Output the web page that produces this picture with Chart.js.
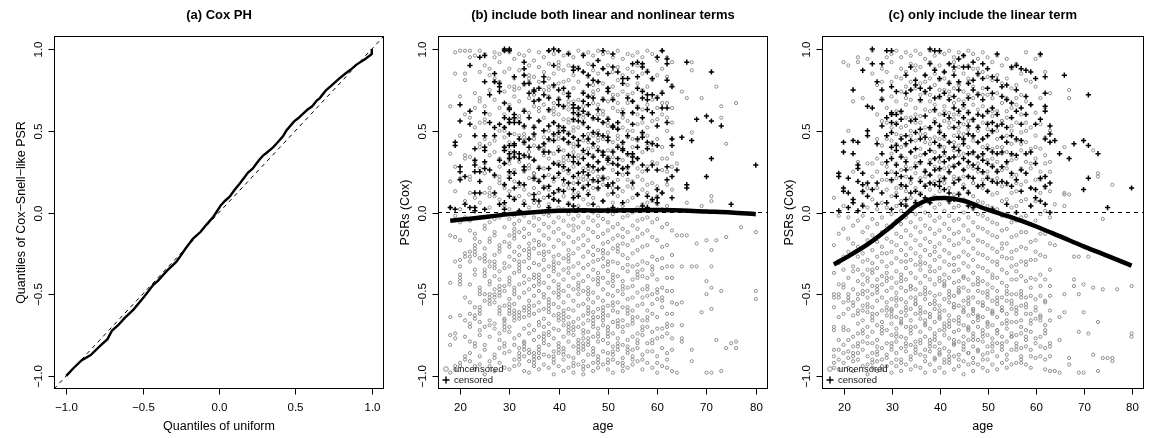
<!DOCTYPE html>
<html>
<head>
<meta charset="utf-8">
<script src="https://cdn.jsdelivr.net/npm/chart.js@4.4.1/dist/chart.umd.min.js"></script>
<style>
html, body { margin: 0; padding: 0; background: #fff; overflow: hidden; }
#wrap { position: relative; width: 1149px; height: 438px; background: #fff; }
canvas { position: absolute; left: 0; top: 0; }
</style>
</head>
<body>
<div id="wrap">
<canvas id="cA" width="1149" height="438"></canvas>
<canvas id="cB" width="1149" height="438"></canvas>
<canvas id="cC" width="1149" height="438"></canvas>
</div>
<script>
// ---- tick positions and labels ----
const qTicks = [-1, -0.5, 0, 0.5, 1];
const qTickLabels = ['\u22121.0', '\u22120.5', '0.0', '0.5', '1.0'];
const ageTicks = [20, 30, 40, 50, 60, 70, 80];
const ageTickLabels = ['20', '30', '40', '50', '60', '70', '80'];

// ---- (a) QQ plot of Cox-Snell-like PSR vs uniform quantiles ----
const qqX = [-1.00,-0.95,-0.90,-0.84,-0.78,-0.73,-0.70,-0.66,-0.62,-0.56,-0.49,-0.43,-0.40,-0.34,-0.28,-0.24,-0.22,-0.17,-0.12,-0.09,-0.04,-0.01,0.01,0.04,0.07,0.10,0.14,0.19,0.22,0.26,0.29,0.31,0.35,0.38,0.42,0.44,0.49,0.52,0.54,0.58,0.61,0.64,0.66,0.70,0.73,0.77,0.79,0.83,0.87,0.90,0.95,0.99,1.00,1.00];
const qqY = [-1.00,-0.95,-0.905,-0.872,-0.818,-0.775,-0.722,-0.690,-0.648,-0.594,-0.515,-0.442,-0.418,-0.356,-0.302,-0.250,-0.222,-0.160,-0.118,-0.082,-0.030,0.012,0.042,0.072,0.097,0.136,0.182,0.245,0.268,0.318,0.350,0.364,0.395,0.425,0.468,0.500,0.556,0.578,0.596,0.630,0.650,0.685,0.700,0.748,0.772,0.806,0.822,0.852,0.880,0.905,0.935,0.962,0.970,1.00];

// ---- (b) PSRs by age, model with linear + nonlinear terms ----
// each row: [age, residual, residual, ...]
const uncB = [
[18, .65,.36,.19,.03,-.14,-.43,-.64,-.75,-.81,-.98],
[19, .98,.85,.28,.13,-.02,-.15,-.30,-.74,-.77,-.94,-.96],
[20, .99,.71,.47,.21,.02,-.06,-.17,-.29,-.33,-.38,-.63,-.92,-.94],
[21, .99,.85,.81,.60,.35,.33,.07,-.03,-.25,-.27,-.52,-.66,-.76,-.88,-.90],
[22, .99,.95,.58,.34,.12,-.05,-.11,-.24,-.27,-.30,-.44,-.55,-.62,-.79,-.86,-.91],
[23, .96,.73,.64,.52,.31,.09,-.13,-.16,-.35,-.38,-.58,-.63,-.65,-.80,-.82,-.94,-.96],
[24, .99,.86,.70,.68,.55,.27,.06,-.03,-.18,-.28,-.46,-.48,-.50,-.67,-.72,-.75,-.88,-.93],
[25, .97,.90,.65,.45,.30,.24,.12,-.08,-.10,-.22,-.35,-.37,-.39,-.50,-.54,-.70,-.81,-.84,-.99],
[26, .88,.84,.75,.60,.42,.35,.15,.03,-.06,-.16,-.18,-.30,-.33,-.42,-.44,-.66,-.69,-.76,-.91,-.94],
[27, .98,.95,.69,.44,.37,.22,.10,-.04,-.12,-.14,-.26,-.39,-.47,-.50,-.52,-.55,-.68,-.71,-.87,-.89,-.97],
[28, .97,.92,.80,.64,.50,.33,.28,.08,-.03,-.20,-.22,-.24,-.36,-.41,-.58,-.60,-.62,-.74,-.78,-.83,-.92],
[29, .99,.86,.74,.60,.46,.40,.30,.17,.15,.04,-.01,-.09,-.18,-.31,-.34,-.45,-.48,-.57,-.65,-.80,-.82,-.86,-.95],
[30, .98,.88,.77,.66,.55,.43,.38,.23,.13,.02,-.04,-.14,-.19,-.21,-.27,-.33,-.40,-.42,-.44,-.53,-.62,-.70,-.73,-.85,-.96],
[31, .94,.82,.71,.57,.48,.36,.26,.19,.09,-.02,-.07,-.16,-.24,-.29,-.37,-.46,-.48,-.50,-.56,-.66,-.77,-.81,-.90,-.94],
[32, .97,.87,.76,.68,.59,.47,.31,.18,.16,.10,.01,-.05,-.12,-.21,-.26,-.36,-.44,-.52,-.61,-.63,-.65,-.75,-.83,-.93],
[33, .96,.84,.78,.63,.52,.42,.34,.25,.14,.07,-.02,-.10,-.15,-.23,-.30,-.39,-.43,-.49,-.58,-.60,-.64,-.71,-.79,-.88,-.97],
[34, .99,.90,.70,.61,.45,.37,.29,.27,.21,.11,.03,-.06,-.13,-.19,-.28,-.34,-.41,-.47,-.54,-.63,-.69,-.74,-.84,-.86,-.91,-.98],
[35, .93,.83,.72,.65,.53,.41,.32,.24,.15,.06,-.03,-.08,-.17,-.22,-.31,-.38,-.40,-.45,-.51,-.57,-.62,-.72,-.78,-.86,-.94],
[36, .98,.89,.80,.69,.56,.39,.28,.20,.12,.04,-.04,-.11,-.18,-.20,-.25,-.32,-.48,-.55,-.60,-.67,-.69,-.76,-.82,-.89,-.96],
[37, .95,.86,.75,.66,.58,.46,.35,.27,.16,.09,-.01,-.07,-.14,-.20,-.29,-.35,-.43,-.50,-.52,-.59,-.65,-.70,-.80,-.87,-.93],
[38, .99,.91,.82,.71,.62,.50,.44,.33,.23,.14,.05,-.02,-.09,-.16,-.24,-.33,-.39,-.46,-.53,-.61,-.68,-.73,-.75,-.81,-.88,-.95],
[39, .97,.85,.77,.67,.55,.47,.36,.30,.19,.08,.01,-.06,-.12,-.21,-.27,-.36,-.42,-.49,-.56,-.63,-.71,-.77,-.85,-.92,-.99],
[40, .99,.88,.79,.70,.60,.51,.40,.31,.22,.13,.03,-.03,-.10,-.17,-.26,-.31,-.38,-.44,-.52,-.58,-.66,-.72,-.80,-.82,-.84,-.86,-.94],
[41, .96,.87,.73,.64,.57,.45,.38,.26,.17,.10,.02,-.05,-.13,-.19,-.28,-.35,-.41,-.48,-.55,-.62,-.69,-.76,-.83,-.90,-.97],
[42, .98,.90,.81,.72,.63,.49,.42,.32,.24,.15,.06,-.01,-.08,-.15,-.23,-.30,-.37,-.45,-.51,-.59,-.64,-.74,-.79,-.88,-.95],
[43, .95,.84,.76,.68,.56,.46,.37,.28,.18,.11,.02,-.04,-.11,-.18,-.25,-.33,-.40,-.47,-.54,-.60,-.67,-.75,-.82,-.89,-.98],
[44, .99,.89,.80,.69,.59,.52,.41,.30,.21,.12,.04,-.02,-.09,-.16,-.22,-.31,-.38,-.43,-.50,-.57,-.65,-.70,-.78,-.86,-.93],
[45, .97,.86,.74,.65,.54,.44,.36,.27,.16,.08,.01,-.06,-.14,-.20,-.27,-.34,-.42,-.48,-.56,-.63,-.68,-.77,-.84,-.91,-.99],
[46, .98,.91,.83,.71,.61,.48,.39,.29,.20,.13,.05,-.03,-.10,-.17,-.24,-.32,-.39,-.46,-.53,-.58,-.66,-.73,-.81,-.87,-.94],
[47, .96,.87,.78,.67,.57,.47,.35,.25,.19,.09,.00,-.05,-.12,-.21,-.26,-.35,-.41,-.49,-.55,-.61,-.70,-.76,-.83,-.92,-.97],
[48, .99,.85,.75,.66,.60,.50,.40,.31,.22,.14,.03,-.02,-.08,-.15,-.23,-.29,-.37,-.44,-.52,-.59,-.64,-.71,-.79,-.88,-.95],
[49, .97,.88,.79,.70,.55,.45,.37,.27,.17,.07,.01,-.04,-.13,-.19,-.28,-.33,-.40,-.47,-.54,-.62,-.69,-.78,-.85,-.93],
[50, .98,.90,.76,.68,.58,.49,.38,.30,.21,.11,.02,-.06,-.11,-.18,-.25,-.36,-.43,-.50,-.57,-.63,-.72,-.80,-.86,-.96],
[51, .95,.86,.77,.64,.53,.43,.34,.26,.15,.06,-.01,-.09,-.16,-.22,-.30,-.38,-.45,-.51,-.60,-.67,-.74,-.82,-.90,-.98],
[52, .99,.89,.81,.72,.62,.51,.41,.29,.20,.10,.02,-.07,-.14,-.24,-.31,-.39,-.48,-.55,-.61,-.70,-.77,-.84,-.92],
[53, .94,.84,.74,.63,.52,.42,.32,.23,.13,.04,-.03,-.10,-.19,-.26,-.34,-.42,-.50,-.58,-.66,-.73,-.81,-.89,-.97],
[54, .97,.88,.78,.67,.56,.46,.35,.27,.16,.07,-.02,-.12,-.20,-.28,-.36,-.46,-.53,-.62,-.69,-.78,-.86,-.95],
[55, .96,.86,.73,.61,.50,.40,.30,.19,.09,.00,-.08,-.17,-.25,-.33,-.41,-.52,-.60,-.68,-.76,-.84,-.93],
[56, .98,.90,.79,.65,.54,.44,.33,.22,.11,.03,-.05,-.15,-.23,-.32,-.40,-.49,-.57,-.64,-.74,-.83,-.91],
[57, .95,.85,.75,.63,.48,.37,.25,.14,.05,-.04,-.13,-.21,-.30,-.39,-.47,-.56,-.66,-.75,-.87,-.96],
[58, .99,.87,.77,.66,.52,.41,.28,.17,.06,-.03,-.11,-.20,-.31,-.40,-.51,-.60,-.70,-.80,-.92],
[59, .97,.81,.69,.56,.43,.31,.18,.07,-.06,-.15,-.27,-.38,-.50,-.62,-.73,-.85,-.95],
[60, .93,.84,.71,.57,.45,.30,.16,.05,-.04,-.17,-.29,-.41,-.53,-.64,-.77,-.88,-.98],
[61, .99,.88,.74,.60,.40,.26,.12,.02,-.09,-.21,-.34,-.46,-.58,-.71,-.83,-.94],
[62, .95,.83,.67,.50,.33,.17,.04,-.07,-.20,-.33,-.48,-.62,-.74,-.86,-.95],
[63, .92,.78,.64,.45,.28,.14,.01,-.11,-.26,-.40,-.55,-.69,-.84,-.97],
[64, .30,-.14,-.56,-.98],
[65, .74,-.14,-.33,-.55,-.69,-.77,-.79],
[66, .70,.06,-.14],
[67, .92,.87,.49,-.33,-.84,-.91],
[68, -.19,-.33],
[69, .70,.04,-.61],
[70, -.17,-.42,-.50,-.98],
[71, .10,.07,-.23,-.33,-.46,-.59,-.98],
[72, .77,-.17,-.78],
[73, .65,.58,-.48,-.97],
[74, .42,-.15,-.83],
[75, -.80],
[76, .67,-.79,-.83],
[77, -.09],
[80, -.12,-.48,-.53]
];
// runs of subjects sharing an age and nearly equal residuals
const stacksB = [
[20, -.40,-.42,-.44],
[22, .20,.22,-.68,-.70],
[23, -.20,-.22,-.24,-.26],
[24, .40,.42,-.58,-.60,-.62],
[25, -.26,-.28,-.30,.55,.57],
[26, -.50,-.52,-.54,-.56,.10,.12],
[27, -.30,-.32,-.34,.80,.82],
[28, -.45,-.47,-.49,-.51,.18,.20,.22],
[29, -.66,-.68,-.70,-.72,.50,.52],
[30, -.56,-.58,-.60,.30,.32,.34],
[31, -.10,-.12,-.14,-.60,-.62,-.64,.75,.77],
[32, -.30,-.32,-.34,-.86,-.88,-.90,.55,.57],
[33, -.80,-.82,-.84,.44,.46,.48],
[34, -.22,-.24,-.26,-.57,-.59,-.61,.80,.82,.84],
[35, -.88,-.90,-.92,.20,.22,.24,.45,.47],
[36, -.38,-.40,-.42,-.44,.62,.64,-.84,-.86],
[37, -.74,-.76,-.78,-.24,-.26,.38,.40,.42],
[38, -.55,-.57,-.59,.00,.02,.75,.77],
[39, -.30,-.32,-.34,-.88,-.90,.60,.62,.64],
[40, -.46,-.48,-.50,-.62,-.64,.45,.47,.90,.92],
[41, -.60,-.64,-.66,-.85,-.87,.30,.32,.34,.80],
[42, -.68,-.70,-.72,-.26,-.28,-.34,.55,.57,.66,.68],
[43, -.70,-.72,-.92,-.94,-.08,.40,.42,.50,.52],
[44, -.45,-.47,-.80,-.82,-.84,.33,.35,.62,.64],
[45, -.72,-.74,-.80,-.82,-.94,-.96,.20,.22,.58,.60],
[46, -.48,-.50,-.60,-.62,-.77,-.79,.25,.27,.43,.45],
[47, -.64,-.66,-.68,-.85,-.87,-.30,.15,.40,.42,.72,.74],
[48, -.40,-.42,-.74,-.76,-.90,-.92,.44,.46,.80],
[49, -.58,-.60,-.64,-.66,-.23,-.25,.20,.22,.60,.62],
[50, -.70,-.74,-.76,-.90,-.92,-.30,-.32,.34,.53,.55],
[51, -.55,-.57,-.85,-.87,-.40,-.42,.38,.70,.72],
[52, -.66,-.68,-.80,-.82,-.20,-.22,.45,.47,.67],
[53, -.45,-.47,-.70,-.92,-.94,-.15,.27,.58,.60],
[54, -.58,-.60,-.82,-.84,-.32,.20,.50,.72],
[55, -.64,-.66,-.88,-.90,-.45,.15,.35,.45,.68],
[56, -.36,-.38,-.78,-.80,-.10,.27,.60],
[57, -.52,-.70,-.72,-.90,-.35,.20,.55],
[58, -.45,-.47,-.64,-.66,-.85,.12,.47],
[59, -.33,-.35,-.56,-.78,-.80,.38],
[60, -.47,-.49,-.71,-.92,.10,.64],
[61, -.28,-.52,-.54,-.76,.33,.67],
[62, -.40,-.68,-.70,-.90,.25,.58],
[63, -.33,-.48,-.62,-.77,.36,.55]
];
const cenB = [
[18, .03],
[19, .43,.41,.02],
[20, .66,.56,.28,.25,.20],
[21, .22,.05],
[22, .90,.62,.54,.03],
[23, .47,.39,.32,.29,.25,.12,.03,.01],
[24, .95,.25,.19,.12],
[25, .96,.80,.61,.47,.40,.38,.31,.27,.02],
[26, .72,.55,.26],
[27, .85,.80,.52,.47,.23,.12],
[28, .79,.77,.74,.54,.32,.05],
[29, 1.0,.99,.67,.58,.52,.40,.38,.30,.17,.06,.02],
[30, 1.0,.99,.64,.63,.57,.55,.48,.41,.36,.33,.25,.21,.10],
[31, .83,.60,.58,.55,.42,.41,.37,.34,.24,.15,.08],
[32, .55,.45,.36,.33,.18,.01],
[33, .92,.88,.84,.79,.62,.53,.43,.35,.28,.26,.17,.05],
[34, .79,.73,.58,.45,.40,.34],
[35, .75,.74,.68,.52,.48,.32,.21,.11,.08],
[36, .76,.69,.56,.40,.27,.19,.07],
[37, .83,.80,.72,.50,.42,.37,.22,.15],
[38, .99,.70,.63,.53,.45,.37,.27,.16,.10,.03],
[39, 1.0,.90,.78,.55,.48,.44,.30,.21,.12,.08],
[40, .99,.75,.69,.66,.53,.49,.38,.29,.24,.14,.07],
[41, .76,.65,.52,.50,.45,.28,.20,.13],
[42, .97,.73,.71,.48,.43,.35,.26,.18,.05],
[43, .89,.87,.66,.64,.61,.57,.46,.34,.31,.22,.14,.09,.04],
[44, .88,.64,.60,.56,.44,.41,.30,.24,.18,.10,.02],
[45, .96,.86,.73,.68,.62,.55,.47,.38,.33,.25,.15],
[46, .84,.78,.71,.66,.60,.52,.45,.36,.29,.23,.17,.11],
[47, .90,.81,.70,.58,.49,.42,.34,.28,.20,.05],
[48, .93,.80,.63,.57,.48,.38,.31,.26,.19,.15],
[49, .99,.88,.69,.55,.47,.37,.35,.27,.21,.07],
[50, .85,.76,.74,.57,.46,.44,.33,.32,.17,.16,.01],
[51, .97,.89,.69,.53,.52,.37,.30,.18,.12,.03],
[52, .86,.55,.51,.40,.33,.29,.24,.15],
[53, .82,.79,.61,.43,.39,.38,.27,.06],
[54, .82,.70,.47,.36,.28,.24],
[55, .91,.68,.61,.54,.36,.34,.31,.18],
[56, .92,.83,.76,.64,.45,.40,.33,.11],
[57, .91,.89,.74,.70,.58,.49,.46,.29,.04],
[58, .86,.72,.69,.63,.43,.39,.26,.10,.03],
[59, .82,.72,.61,.42,.29,.08],
[60, .95,.70,.53,.41,.26,.14,.09,.06],
[61, .99,.73,.64,.12],
[62, .94,.91,.81,.64,.55,.28,.20],
[63, .77,.45,.41,.22,.09],
[64, .26],
[65, .46],
[66, .92,.17,.15],
[67, .44],
[68, .57],
[70, .59,.22],
[71, .86,.56,.33],
[73, .53],
[75, .05],
[80, .29]
];
const fitAgeB = [18, 22, 26, 30, 35, 40, 45, 50, 55, 60, 65, 70, 75, 80];
const fitB = [-0.050, -0.038, -0.024, -0.010, 0.002, 0.010, 0.014, 0.012, 0.014, 0.015, 0.012, 0.006, 0.000, -0.010];

// ---- (c) PSRs by age, model with the linear term only ----
const uncC = [
[18, .09,-.20,-.37,-.50,-.52,-.58,-.84,-.88,-.92],
[19, -.02,-.13,-.31,-.44,-.64,-.78,-.90,-.96],
[20, .92,.04,-.10,-.27,-.35,-.55,-.62,-.81,-.86,-.92],
[21, .90,.50,-.03,-.16,-.24,-.40,-.59,-.72,-.85,-.89,-.95],
[22, .68,.25,-.08,-.19,-.33,-.36,-.47,-.63,-.76,-.82,-.91,-.97],
[23, .95,.92,.31,-.05,-.21,-.27,-.42,-.50,-.53,-.68,-.74,-.86,-.90],
[24, .70,.12,-.02,-.12,-.25,-.38,-.44,-.57,-.60,-.66,-.79,-.84,-.94],
[25, .94,.30,.03,-.09,-.17,-.29,-.35,-.48,-.52,-.61,-.70,-.76,-.88,-.93,-.99],
[26, .99,.85,.22,.08,-.04,-.14,-.23,-.31,-.45,-.50,-.58,-.66,-.73,-.80,-.86,-.95],
[27, .78,.60,.33,.15,.02,-.07,-.18,-.27,-.34,-.41,-.54,-.62,-.69,-.78,-.82,-.91,-.97],
[28, .88,.80,.56,.41,.20,.06,-.03,-.12,-.21,-.30,-.39,-.44,-.52,-.60,-.67,-.74,-.83,-.90],
[29, .95,.86,.64,.45,.28,.14,.03,-.08,-.16,-.25,-.33,-.37,-.48,-.55,-.63,-.72,-.80,-.87,-.94],
[30, .97,.92,.71,.52,.36,.19,.10,-.01,-.09,-.18,-.24,-.31,-.40,-.46,-.53,-.59,-.68,-.75,-.84,-.92,-.98],
[31, .99,.83,.68,.55,.42,.30,.21,.12,.04,-.05,-.13,-.20,-.28,-.36,-.43,-.49,-.57,-.64,-.71,-.79,-.86,-.94],
[32, .95,.88,.74,.61,.47,.35,.26,.15,.07,.01,-.07,-.15,-.23,-.30,-.38,-.46,-.53,-.61,-.68,-.76,-.83,-.90,-.97],
[33, .98,.86,.77,.66,.53,.41,.33,.22,.13,.05,-.03,-.11,-.19,-.26,-.34,-.41,-.48,-.55,-.63,-.70,-.77,-.85,-.93],
[34, .96,.91,.80,.69,.58,.47,.37,.27,.18,.09,.02,-.06,-.14,-.22,-.29,-.37,-.45,-.52,-.59,-.66,-.74,-.81,-.88,-.96],
[35, .99,.87,.76,.64,.55,.44,.34,.24,.15,.07,-.01,-.09,-.17,-.25,-.32,-.40,-.47,-.56,-.62,-.70,-.79,-.86,-.94],
[36, .97,.89,.79,.68,.59,.48,.39,.30,.21,.12,.04,-.04,-.12,-.20,-.27,-.35,-.43,-.50,-.58,-.65,-.73,-.80,-.87,-.95],
[37, .94,.84,.73,.63,.52,.43,.36,.26,.17,.08,.00,-.08,-.16,-.23,-.31,-.39,-.46,-.53,-.61,-.69,-.76,-.84,-.91,-.98],
[38, .99,.92,.82,.72,.62,.51,.42,.32,.23,.14,.06,-.02,-.10,-.18,-.26,-.33,-.41,-.49,-.56,-.64,-.71,-.78,-.85,-.93],
[39, .96,.88,.78,.66,.57,.46,.37,.28,.19,.10,.03,-.05,-.13,-.21,-.29,-.36,-.44,-.51,-.59,-.67,-.74,-.82,-.89,-.97],
[40, .98,.90,.81,.70,.60,.50,.40,.31,.22,.13,.05,-.03,-.11,-.19,-.27,-.34,-.42,-.50,-.57,-.65,-.72,-.80,-.87,-.95],
[41, .97,.86,.75,.65,.56,.45,.35,.27,.18,.09,.01,-.07,-.15,-.23,-.30,-.38,-.45,-.53,-.60,-.68,-.75,-.83,-.90,-.98],
[42, .99,.91,.80,.71,.61,.52,.43,.33,.24,.15,.06,-.02,-.10,-.17,-.25,-.32,-.40,-.48,-.55,-.63,-.70,-.77,-.85,-.92],
[43, .95,.87,.76,.67,.57,.47,.38,.29,.20,.11,.03,-.05,-.13,-.20,-.28,-.36,-.43,-.51,-.58,-.66,-.73,-.81,-.88,-.96],
[44, .98,.89,.79,.69,.60,.49,.41,.30,.21,.12,.04,-.04,-.12,-.19,-.27,-.35,-.42,-.49,-.57,-.64,-.72,-.79,-.87,-.94],
[45, .96,.85,.74,.64,.54,.44,.36,.26,.17,.08,.00,-.08,-.16,-.24,-.31,-.39,-.46,-.54,-.61,-.69,-.76,-.84,-.91,-.99],
[46, .99,.90,.82,.72,.62,.51,.40,.31,.22,.13,.05,-.03,-.11,-.18,-.26,-.33,-.41,-.48,-.56,-.63,-.71,-.78,-.86,-.93],
[47, .97,.88,.77,.66,.56,.46,.36,.27,.18,.10,.02,-.06,-.14,-.22,-.29,-.37,-.44,-.52,-.59,-.67,-.74,-.82,-.89,-.97],
[48, .94,.84,.73,.63,.53,.43,.34,.25,.16,.07,-.01,-.09,-.17,-.25,-.33,-.40,-.48,-.55,-.63,-.70,-.78,-.85,-.93],
[49, .98,.86,.76,.65,.55,.45,.35,.24,.15,.06,-.02,-.10,-.18,-.26,-.34,-.42,-.49,-.57,-.64,-.72,-.79,-.87,-.95],
[50, .95,.83,.72,.61,.51,.41,.32,.22,.13,.04,-.04,-.12,-.20,-.28,-.36,-.44,-.52,-.59,-.67,-.75,-.82,-.90,-.97],
[51, .92,.81,.70,.59,.49,.39,.29,.20,.11,.03,-.06,-.14,-.22,-.30,-.38,-.46,-.54,-.61,-.69,-.77,-.85,-.93],
[52, .96,.84,.73,.62,.50,.40,.31,.21,.12,.02,-.07,-.15,-.24,-.32,-.40,-.48,-.56,-.64,-.72,-.80,-.88,-.96],
[53, .90,.79,.67,.56,.46,.36,.26,.16,.07,-.02,-.11,-.19,-.27,-.35,-.43,-.52,-.60,-.68,-.76,-.84,-.92],
[54, .94,.82,.70,.58,.47,.37,.27,.17,.08,-.01,-.10,-.19,-.28,-.37,-.45,-.54,-.62,-.71,-.79,-.87,-.95],
[55, .88,.76,.64,.53,.42,.32,.22,.12,.03,-.06,-.15,-.24,-.33,-.41,-.50,-.59,-.67,-.76,-.84,-.93],
[56, .91,.78,.66,.55,.44,.33,.23,.13,.04,-.05,-.14,-.23,-.32,-.41,-.50,-.58,-.67,-.75,-.84,-.92],
[57, .85,.72,.60,.49,.38,.27,.17,.07,-.03,-.12,-.21,-.30,-.39,-.48,-.57,-.66,-.74,-.83,-.92],
[58, .98,.81,.68,.55,.43,.31,.19,.08,-.02,-.12,-.22,-.32,-.42,-.52,-.62,-.72,-.82,-.93],
[59, .80,.66,.52,.39,.27,.15,.04,-.07,-.18,-.29,-.40,-.51,-.62,-.73,-.84,-.95],
[60, .94,.77,.61,.47,.33,.20,.07,-.05,-.17,-.29,-.41,-.53,-.65,-.77,-.89],
[61, .96,.70,.54,.39,.25,.12,-.01,-.13,-.26,-.38,-.51,-.63,-.76,-.88],
[62, .86,.64,.46,.30,.15,.01,-.13,-.27,-.41,-.55,-.69,-.83,-.96],
[63, .73,.50,.31,.13,-.03,-.19,-.35,-.51,-.66,-.82,-.97],
[64, .05,-.20,-.97],
[65, -.64,-.78,-.98],
[66, .40,.12,.11,.04,-.50,-.61],
[67, .75,.70,.11,-.89,-.93],
[68, -.27,-.41,-.45],
[69, -.27,-.50,-.73,-.98],
[70, -.44,-.61,-.98],
[71, -.27,-.74],
[72, .38,-.46,-.87],
[73, .24,.22,-.67,-.97],
[74, -.04,-.47,-.89],
[75, -.89],
[76, .17,-.89,-.91],
[77, -.47],
[80, -.45,-.74,-.76]
];
const stacksC = [
[18, -.70,-.72,-.95],
[19, -.50,-.52,-.84],
[20, -.44,-.46,-.70,-.72],
[21, -.50,-.52,-.54,-.78],
[22, -.55,-.57,-.86,-.88,-.25],
[23, -.60,-.62,-.80,-.82,-.35],
[24, -.48,-.50,-.72,-.74,-.30,.05],
[25, -.40,-.42,-.56,-.58,-.80,.15],
[26, -.35,-.37,-.62,-.64,-.90,-.92,.30],
[27, -.45,-.47,-.49,-.85,-.87,.25,.45],
[28, -.70,-.72,-.94,-.96,-.25,.30,.70],
[29, -.40,-.42,-.58,-.60,-.89,.20,.55],
[30, -.60,-.62,-.64,-.80,-.82,.25,.44,.80],
[31, -.52,-.54,-.74,-.76,-.90,.15,.48,.62],
[32, -.40,-.42,-.65,-.67,-.92,.40,.52,.82],
[33, -.58,-.60,-.80,-.82,-.30,.28,.58,.70],
[34, -.45,-.47,-.70,-.72,-.90,.20,.50,.75],
[35, -.52,-.54,-.56,-.82,-.84,.30,.60,.90],
[36, -.60,-.62,-.78,-.30,-.32,.35,.55,.72],
[37, -.48,-.50,-.66,-.68,-.88,.22,.48,.80],
[38, -.62,-.64,-.80,-.82,-.36,.18,.45,.68],
[39, -.54,-.56,-.76,-.78,-.90,-.24,.33,.62,.85],
[40, -.60,-.62,-.64,-.84,-.86,-.40,.26,.45,.75],
[41, -.42,-.44,-.70,-.72,-.92,.20,.40,.62,.82],
[42, -.50,-.52,-.66,-.68,-.88,-.90,.28,.55,.74],
[43, -.56,-.58,-.78,-.80,-.32,.22,.43,.60,.92],
[44, -.46,-.48,-.66,-.68,-.90,.35,.52,.78],
[45, -.58,-.60,-.80,-.82,-.40,.22,.48,.68],
[46, -.52,-.54,-.70,-.72,-.86,.28,.56,.80],
[47, -.60,-.62,-.76,-.78,-.92,.18,.44,.70],
[48, -.42,-.44,-.64,-.66,-.84,.30,.50,.88],
[49, -.55,-.57,-.74,-.76,-.90,.20,.40,.72],
[50, -.48,-.50,-.68,-.70,-.86,.25,.55],
[51, -.60,-.62,-.80,-.82,-.40,.33,.62],
[52, -.52,-.54,-.72,-.74,-.30,.26,.45],
[53, -.58,-.60,-.80,-.82,-.22,.40,.56],
[54, -.48,-.50,-.66,-.68,-.90,.30,.62],
[55, -.54,-.56,-.74,-.76,-.28,.35,.50],
[56, -.60,-.62,-.80,-.82,-.36,.18,.70],
[57, -.50,-.52,-.70,-.88,-.90,.42],
[58, -.56,-.58,-.76,-.78,-.30,.50],
[59, -.46,-.66,-.68,-.88,.30],
[60, -.58,-.60,-.80,-.24,.40],
[61, -.45,-.64,-.66,-.82,.20],
[62, -.54,-.72,-.74,-.90,.35],
[63, -.45,-.60,-.80,-.88,.25]
];
const cenC = [
[19, .24,.22,.01],
[20, .43,.37,.15,.13],
[21, .21,.12,.03],
[22, .75,.44,.36,.08,.06],
[23, .43,.29,.27,.19,.01],
[24, .87,.24,.17,.13,.04],
[25, .65,.50,.47,.18,.10],
[26, 1.0,.91,.64,.14],
[27, .80,.42,.18,.05],
[28, .91,.75,.69,.53,.36,.12],
[29, .99,.58,.47,.31,.24,.06],
[30, .99,.77,.61,.60,.55,.49,.40,.33,.20,.02],
[31, .74,.60,.54,.41,.38,.29,.24,.10],
[32, .62,.57,.45,.34,.22,.17,.05],
[33, .84,.73,.47,.42,.31,.26,.16,.08,.04],
[34, .89,.75,.56,.44,.37,.21,.12],
[35, .81,.78,.57,.49,.39,.28,.13,.06],
[36, .76,.69,.51,.45,.31,.19,.11],
[37, .84,.74,.59,.46,.36,.25,.16,.09],
[38, 1.0,.91,.76,.52,.38,.30,.23,.18,.06],
[39, .99,.87,.70,.63,.55,.43,.33,.26,.17],
[40, .99,.82,.71,.53,.49,.41,.34,.27,.19,.16],
[41, .86,.73,.60,.47,.37,.31,.21,.14],
[42, .91,.79,.69,.58,.43,.33,.25,.12,.07],
[43, .89,.84,.71,.64,.52,.40,.34,.28,.18,.08],
[44, .94,.80,.75,.62,.55,.46,.38,.30,.20,.11],
[45, .96,.89,.66,.58,.45,.42,.33,.26,.15],
[46, .89,.79,.70,.61,.53,.48,.36,.31,.22,.12,.04],
[47, .92,.81,.75,.57,.47,.37,.29,.21,.03],
[48, .85,.72,.60,.52,.43,.34,.27,.16],
[49, .91,.82,.69,.59,.45,.36,.32,.25,.17],
[50, .88,.76,.62,.54,.47,.39,.30,.21,.13],
[51, .83,.73,.64,.55,.50,.37,.28,.19,.02],
[52, .97,.81,.60,.53,.36,.25,.18],
[53, .77,.71,.54,.46,.37,.28,.19],
[54, .78,.69,.52,.43,.31,.18,.05],
[55, .89,.67,.58,.47,.36,.24,.16],
[56, .90,.75,.62,.45,.35,.20,.00],
[57, .88,.64,.54,.44,.26,.13],
[58, .87,.71,.60,.36,.24],
[59, .86,.66,.37,.15,.04],
[60, .82,.54,.30,.14,.09],
[61, .97,.57,.21,.07],
[62, .83,.73,.65,.62,.45,.22,.16,.05],
[63, .53,.48,.43,.18,.00],
[64, .44],
[65, .36],
[66, .84],
[67, .33],
[68, .42],
[70, .44,.14],
[71, .72,.41,.21],
[73, .36],
[75, .03],
[80, .15]
];
const fitAgeC = [18, 22, 25, 30, 33, 35, 38, 41, 45, 50, 55, 60, 65, 70, 75, 80];
const fitC = [-0.318, -0.250, -0.195, -0.084, -0.010, 0.040, 0.080, 0.088, 0.072, 0.017, -0.030, -0.084, -0.145, -0.207, -0.265, -0.325];

// ---- helpers ----
function toPoints(rows) {
  const out = [];
  rows.forEach(r => { for (let i = 1; i < r.length; i++) out.push({ x: r[0], y: r[i] }); });
  return out;
}
function pairs(xs, ys) { return xs.map((x, i) => ({ x: x, y: ys[i] })); }

const FONT = '"Liberation Sans", Arial, Helvetica, sans-serif';

// Box, tick marks, tick labels, axis titles, panel title and legend in base-graphics style
const frame = {
  id: 'rframe',
  afterDraw(chart, args, o) {
    const ctx = chart.ctx, a = chart.chartArea, xs = chart.scales.x, ys = chart.scales.y;
    const L = Math.round(a.left) + 0.5, T = Math.round(a.top) + 0.5;
    const R = Math.min(Math.round(a.right) - 0.5, 1148.5), B = Math.round(a.bottom) - 0.5;
    ctx.save();
    ctx.strokeStyle = '#000'; ctx.fillStyle = '#000'; ctx.lineWidth = 1;
    ctx.strokeRect(L, T, R - L, B - T);
    ctx.font = '11.5px ' + FONT;
    ctx.textAlign = 'center'; ctx.textBaseline = 'middle';
    o.xTicks.forEach((v, i) => {
      const px = Math.round(xs.getPixelForValue(v)) + 0.5;
      ctx.beginPath(); ctx.moveTo(px, B); ctx.lineTo(px, B + 6); ctx.stroke();
      ctx.fillText(o.xLabels[i], px, B + 19);
    });
    o.yTicks.forEach((v, i) => {
      const py = Math.round(ys.getPixelForValue(v)) + 0.5;
      ctx.beginPath(); ctx.moveTo(L, py); ctx.lineTo(L - 6, py); ctx.stroke();
      ctx.save(); ctx.translate(L - 16, py); ctx.rotate(-Math.PI / 2);
      ctx.fillText(o.yLabels[i], 0, 0); ctx.restore();
    });
    ctx.font = '12.5px ' + FONT;
    ctx.fillText(o.xTitle, (a.left + a.right) / 2, 427);
    ctx.save(); ctx.translate(a.left - 32, (a.top + a.bottom) / 2); ctx.rotate(-Math.PI / 2);
    ctx.fillText(o.yTitle, 0, 0); ctx.restore();
    ctx.font = 'bold 13px ' + FONT;
    ctx.fillText(o.title, (a.left + a.right) / 2, 15);
    if (o.legend) {
      const lx = a.left + 8, ly1 = a.bottom - 20, ly2 = a.bottom - 9;
      ctx.strokeStyle = '#8a8a8a'; ctx.lineWidth = 1;
      ctx.beginPath(); ctx.arc(lx, ly1, 2.3, 0, Math.PI * 2); ctx.stroke();
      ctx.strokeStyle = '#000'; ctx.lineWidth = 1.4;
      ctx.beginPath(); ctx.moveTo(lx - 3.5, ly2); ctx.lineTo(lx + 3.5, ly2);
      ctx.moveTo(lx, ly2 - 3.5); ctx.lineTo(lx, ly2 + 3.5); ctx.stroke();
      ctx.font = '9.5px ' + FONT; ctx.textAlign = 'left'; ctx.fillStyle = '#111';
      ctx.fillText('uncensored', lx + 8, ly1 + 0.5);
      ctx.fillText('censored', lx + 8, ly2 + 0.5);
    }
    ctx.restore();
  }
};

function baseOptions(left, right, xmin, xmax, frameOpts) {
  return {
    responsive: false, animation: false, devicePixelRatio: 1, events: [],
    layout: { padding: { left: left, right: 1149 - right, top: 36, bottom: 438 - 389 } },
    scales: {
      x: { type: 'linear', min: xmin, max: xmax, display: false },
      y: { type: 'linear', min: -1.08, max: 1.08, display: false }
    },
    plugins: { legend: { display: false }, tooltip: { enabled: false }, rframe: frameOpts }
  };
}

// (a)
new Chart(document.getElementById('cA'), {
  type: 'scatter',
  data: { datasets: [
    { type: 'line', data: pairs(qqX, qqY), borderColor: '#000', borderWidth: 2.4, pointRadius: 0, tension: 0, fill: false },
    { type: 'line', data: [{ x: -1.08, y: -1.08 }, { x: 1.08, y: 1.08 }], borderColor: '#000', borderWidth: 1, borderDash: [4, 4], pointRadius: 0, fill: false }
  ] },
  options: baseOptions(54, 384, -1.08, 1.08, {
    title: '(a) Cox PH', xTicks: qTicks, xLabels: qTickLabels, yTicks: qTicks, yLabels: qTickLabels,
    xTitle: 'Quantiles of uniform', yTitle: 'Quantiles of Cox\u2212Snell\u2212like PSR', legend: false
  }),
  plugins: [frame]
});

function psrChart(id, unc, cen, fitAge, fit, title, left, right) {
  return new Chart(document.getElementById(id), {
    type: 'scatter',
    data: { datasets: [
      { type: 'line', data: pairs(fitAge, fit), borderColor: '#000', borderWidth: 4.5, pointRadius: 0, cubicInterpolationMode: 'monotone', fill: false },
      { type: 'line', data: [{ x: 15.52, y: 0 }, { x: 82.48, y: 0 }], borderColor: '#000', borderWidth: 1, borderDash: [4, 4], pointRadius: 0, fill: false },
      { data: toPoints(cen), pointStyle: 'cross', pointRadius: 2.6, pointBorderWidth: 1.5, pointBorderColor: '#000', borderColor: '#000', backgroundColor: '#000' },
      { data: toPoints(unc), pointStyle: 'circle', pointRadius: 1.6, pointBorderWidth: 1, pointBorderColor: '#8c8c8c', borderColor: '#8c8c8c', pointBackgroundColor: 'rgba(0,0,0,0)', backgroundColor: 'rgba(0,0,0,0)' }
    ] },
    options: baseOptions(left, right, 15.52, 82.48, {
      title: title, xTicks: ageTicks, xLabels: ageTickLabels, yTicks: qTicks, yLabels: qTickLabels,
      xTitle: 'age', yTitle: 'PSRs (Cox)', legend: true
    }),
    plugins: [frame]
  });
}

psrChart('cB', uncB.concat(stacksB), cenB, fitAgeB, fitB, '(b) include both linear and nonlinear terms', 438, 768);
psrChart('cC', uncC.concat(stacksC), cenC, fitAgeC, fitC, '(c) only include the linear term', 822, 1149);
</script>
</body>
</html>
